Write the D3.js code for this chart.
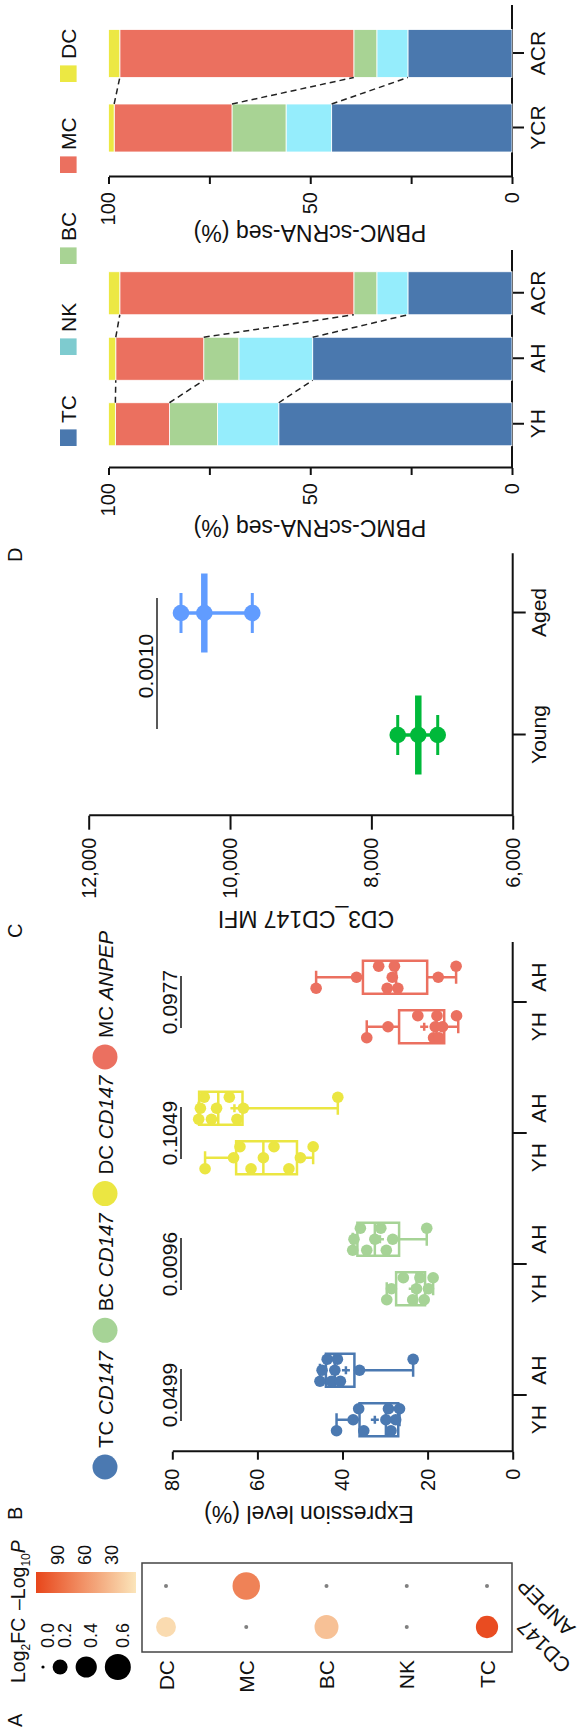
<!DOCTYPE html>
<html><head><meta charset="utf-8">
<script src="https://cdn.jsdelivr.net/npm/d3@7"></script>
<style>
body{margin:0;background:#fff}
svg{display:block}
text{font-family:"Liberation Sans",Arial,sans-serif;fill:#111}
</style>
</head><body>
<svg id="fig" width="578" height="1734"></svg>
<script>
// ---------------- DATA ----------------
// Panel A: dot plot
const cellTypes = ["DC","MC","BC","NK","TC"];
const genesA = ["CD147","ANPEP"];
const log2fcCD147 = [0.35, 0, 0.51, 0, 0.44];
const log2fcANPEP = [0, 0.67, 0, 0, 0];
const nlogpCD147 = [10, 0, 28, 0, 110];
const nlogpANPEP = [0, 72, 0, 0, 0];
const sizeLegendVals = [0, 0.2, 0.4, 0.6];
const colorLegendTicks = [30, 60, 90];

// Panel B: box plots (order: TC-YH, TC-AH, BC-YH, BC-AH, DC-YH, DC-AH, MC-YH, MC-AH)
const boxGroups = ["TC","BC","DC","MC"];
const boxGenes = ["CD147","CD147","CD147","ANPEP"];
const ageGroups = ["YH","AH"];
const pValues = ["0.0499","0.0096","0.1049","0.0977"];
const boxMin  = [26.6, 23.4, 18.7, 20.2, 46.9, 41.1, 12.8, 13.3];
const boxQ1   = [26.9, 37.2, 20.6, 26.7, 50.7, 63.5, 16.1, 20.1];
const boxMed  = [29.8, 41.8, 22.6, 32.4, 58.6, 69.2, 17.9, 27.4];
const boxQ3   = [36.0, 43.9, 27.4, 36.5, 65.0, 73.7, 26.7, 35.2];
const boxMax  = [41.4, 45.3, 29.6, 37.6, 72.3, 73.8, 34.3, 46.2];
const boxMean = [32.4, 39.2, 23.5, 31.2, 58.6, 65.4, 20.8, 28.6];
const boxPoints = [
  [41.4, 37.5, 36.2, 35.0, 29.8, 29.2, 28.6, 27.5, 26.6],
  [45.3, 44.8, 43.6, 42.6, 41.8, 41.2, 40.5, 36.0, 23.4],
  [29.6, 28.5, 25.7, 23.5, 22.6, 21.8, 20.8, 19.8, 18.7],
  [37.6, 37.3, 35.8, 34.3, 32.4, 31.0, 29.7, 28.2, 20.2],
  [72.3, 65.6, 64.1, 61.5, 58.6, 56.1, 52.6, 49.9, 46.9],
  [73.8, 73.4, 72.5, 70.8, 69.6, 66.6, 64.8, 63.3, 41.1],
  [34.3, 29.3, 22.3, 18.6, 18.2, 17.8, 17.3, 16.5, 13.2],
  [46.2, 36.7, 31.5, 29.5, 28.3, 27.8, 27.0, 17.5, 13.3]
];

// Panel C: MFI
const mfiCats = ["Young","Aged"];
const mfiYoung = [7061, 7336, 7627];
const mfiAged = [9685, 10364, 10694];
const mfiP = "0.0010";

// Panel D: stacked composition (%), order TC, NK, BC, MC, DC
const stackCells = ["TC","NK","BC","MC","DC"];
const barCats1 = ["YH","AH","ACR"];
const barCats2 = ["YCR","ACR"];
const shareYH  = [57.8, 15.2, 11.9, 13.4, 1.7];
const shareAH  = [49.4, 18.3, 8.7, 21.8, 1.8];
const shareACR = [25.8, 7.7, 5.7, 58.0, 2.8];
const shareYCR = [44.7, 11.3, 13.4, 29.2, 1.4];
const valueTicksD = [0, 25, 50, 75, 100];

// ---------------- STYLE ----------------
const boxColors = {TC:"#4b79b1", BC:"#a6d396", DC:"#ebe642", MC:"#eb7060"};
const barColors = {TC:"#4a78ae", NK:"#95edfc", BC:"#a8d394", MC:"#eb705f", DC:"#ece843"};
const legendColorsD = {TC:"#4a78ae", NK:"#7ecbcf", BC:"#a8d394", MC:"#eb705f", DC:"#ece843"};
const mfiColors = {Young:"#00b93a", Aged:"#619cff"};
const FS_LABEL = 21, FS_TICK = 20, FS_TITLE = 23;

const W = 578, H = 1734;
const svg = d3.select("#fig");
svg.append("rect").attr("width", W).attr("height", H).attr("fill", "#fff");
// the figure is laid out landscape and rotated 90deg counter-clockwise
const g = svg.append("g").attr("transform", `translate(0,${H}) rotate(-90)`);

function styleAxis(sel, fs){
  sel.attr("font-size", fs);
  sel.selectAll("path.domain").attr("stroke", "#111").attr("stroke-width", 2);
  sel.selectAll(".tick line").attr("stroke", "#111").attr("stroke-width", 2);
  sel.selectAll(".tick text").attr("fill", "#111");
}

// Panel letters
[["A",7],["B",214],["C",796],["D",1172]].forEach(([t,x]) =>
  g.append("text").attr("x", x).attr("y", 22).attr("font-size", 20).text(t));

// ---------------- PANEL A ----------------
const rScale = d3.scaleSqrt().domain([0, 0.6]).range([0, 13]);
const rOf = v => v > 0 ? rScale(v) : 1.6;
const cScale = d3.scaleLinear().domain([3, 114]).range(["#fbe5ba", "#e8461b"]);

const tA1 = g.append("text").attr("x", 51).attr("y", 25).attr("font-size", 19.5);
tA1.append("tspan").text("Log");
tA1.append("tspan").attr("font-size", 12).attr("dy", 5).text("2");
tA1.append("tspan").attr("dy", -5).text("FC");
const tA2 = g.append("text").attr("x", 124).attr("y", 25).attr("font-size", 19.5);
tA2.append("tspan").text("\u2013Log");
tA2.append("tspan").attr("font-size", 12).attr("dy", 5).text("10");
tA2.append("tspan").attr("dy", -5).attr("font-style", "italic").text("P");

// size legend
let cy = 43;
sizeLegendVals.forEach((v, i) => {
  if (i > 0) cy += rOf(sizeLegendVals[i-1]) + rOf(v) + 8;
  g.append("circle").attr("cx", 67).attr("cy", cy).attr("r", rOf(v)).attr("fill", "#000");
  g.append("text").attr("x", 86).attr("y", cy + 5).attr("dominant-baseline", "central")
    .attr("font-size", 18).text(d3.format(".1f")(v));
});
// colour legend
const cbScale = d3.scaleLinear().domain([114, 3]).range([36, 136]);
const grad = svg.append("defs").append("linearGradient").attr("id", "cbg")
  .attr("x1", 0).attr("y1", 0).attr("x2", 0).attr("y2", 1);
d3.range(0, 1.01, 0.1).forEach(t => grad.append("stop").attr("offset", t)
  .attr("stop-color", cScale(cbScale.invert(36 + t * 100))));
g.append("rect").attr("x", 141).attr("y", cbScale(114)).attr("width", 21)
  .attr("height", cbScale(3) - cbScale(114)).attr("fill", "url(#cbg)");
colorLegendTicks.forEach(t => g.append("text").attr("x", 169).attr("y", cbScale(t))
  .attr("dominant-baseline", "central").attr("font-size", 18).text(t));

// grid
const xA = d3.scalePoint().domain(genesA).range([107, 148]);
const yA = d3.scalePoint().domain(cellTypes).range([166, 487]);
g.append("rect").attr("x", 82).attr("y", 142).attr("width", 89).attr("height", 370)
  .attr("fill", "none").attr("stroke", "#444").attr("stroke-width", 1.5);
const dotsA = [];
cellTypes.forEach((c, i) => {
  dotsA.push({gene: "CD147", cell: c, fc: log2fcCD147[i], p: nlogpCD147[i]});
  dotsA.push({gene: "ANPEP", cell: c, fc: log2fcANPEP[i], p: nlogpANPEP[i]});
});
g.selectAll("circle.dotA").data(dotsA).join("circle").attr("class", "dotA")
  .attr("cx", d => xA(d.gene)).attr("cy", d => yA(d.cell))
  .attr("r", d => d.fc > 0 ? rScale(d.fc) : 2)
  .attr("fill", d => d.fc > 0 ? cScale(d.p) : "#808080");
cellTypes.forEach(c => g.append("text").attr("x", 74).attr("y", yA(c))
  .attr("text-anchor", "end").attr("dominant-baseline", "central").attr("font-size", FS_LABEL).text(c));
genesA.forEach(gn => g.append("text")
  .attr("transform", `translate(${xA(gn) + 9},526) rotate(-45)`)
  .attr("text-anchor", "end").attr("font-size", FS_LABEL).text(gn));

// ---------------- PANEL B ----------------
const yB = d3.scaleLinear().domain([0, 80]).range([512.7, 172.3]);
const xB = d3.scaleBand().domain(boxGroups).range([273.5, 797.5]);
const xBi = d3.scaleBand().domain(ageGroups).range([16, 115]);
const boxW = 33;

// legend
boxGroups.forEach((grp, i) => {
  const lx = 267 + i * 136.7;
  g.append("circle").attr("cx", lx).attr("cy", 105).attr("r", 12.5).attr("fill", boxColors[grp]);
  const t = g.append("text").attr("x", lx + 19).attr("y", 105).attr("dominant-baseline", "central").attr("font-size", 20.5);
  t.append("tspan").text(grp + " ");
  t.append("tspan").attr("font-style", "italic").text(boxGenes[i]);
});

const axB = g.append("g").attr("transform", "translate(282.3,0)")
  .call(d3.axisLeft(yB).tickValues([0,20,40,60,80]).tickSize(8).tickPadding(9).tickSizeOuter(0));
styleAxis(axB, FS_TICK);
const axBx = g.append("g").attr("transform", "translate(0,512.7)")
  .call(d3.axisBottom(xB).tickSize(14).tickFormat(""));
axBx.select("path.domain").remove();
styleAxis(axBx, FS_LABEL);
g.append("line").attr("x1", 282.3).attr("x2", 792).attr("y1", 512.7).attr("y2", 512.7)
  .attr("stroke", "#111").attr("stroke-width", 2);
g.append("text").attr("transform", "translate(228,309) rotate(-90)")
  .attr("text-anchor", "middle").attr("font-size", FS_TITLE).text("Expression level (%)");

boxGroups.forEach((grp, gi) => {
  const gc = xB(grp) + xB.bandwidth() / 2;
  g.append("text").attr("x", gc).attr("y", 177).attr("text-anchor", "middle")
    .attr("font-size", FS_LABEL).text(pValues[gi]);
  g.append("line").attr("x1", gc - 26).attr("x2", gc + 26).attr("y1", 181).attr("y2", 181)
    .attr("stroke", "#111").attr("stroke-width", 1.5);
  ageGroups.forEach((ag, ai) => {
    const i = gi * 2 + ai;
    const cx = xB(grp) + xBi(ag) + xBi.bandwidth() / 2;
    const col = boxColors[grp];
    const bg = g.append("g").attr("stroke", col).attr("stroke-width", 2.5).attr("fill", "none");
    bg.append("line").attr("x1", cx).attr("x2", cx).attr("y1", yB(boxMin[i])).attr("y2", yB(boxQ1[i]));
    bg.append("line").attr("x1", cx).attr("x2", cx).attr("y1", yB(boxQ3[i])).attr("y2", yB(boxMax[i]));
    [boxMin[i], boxMax[i]].forEach(v => bg.append("line").attr("x1", cx - 6.5).attr("x2", cx + 6.5)
      .attr("y1", yB(v)).attr("y2", yB(v)));
    bg.append("rect").attr("x", cx - boxW / 2).attr("y", yB(boxQ3[i])).attr("width", boxW)
      .attr("height", yB(boxQ1[i]) - yB(boxQ3[i]));
    bg.append("line").attr("x1", cx - boxW / 2).attr("x2", cx + boxW / 2)
      .attr("y1", yB(boxMed[i])).attr("y2", yB(boxMed[i]));
    bg.append("line").attr("x1", cx - 4).attr("x2", cx + 4).attr("y1", yB(boxMean[i])).attr("y2", yB(boxMean[i]));
    bg.append("line").attr("x1", cx).attr("x2", cx).attr("y1", yB(boxMean[i]) - 4).attr("y2", yB(boxMean[i]) + 4);
    g.selectAll(null).data(boxPoints[i]).join("circle")
      .attr("cx", (d, k) => cx + ((k % 3) - 1) * 11).attr("cy", d => yB(d))
      .attr("r", 5.8).attr("fill", col);
    g.append("text").attr("x", cx).attr("y", 531).attr("dy", "0.71em").attr("text-anchor", "middle")
      .attr("font-size", FS_LABEL).text(ag);
  });
});

// ---------------- PANEL C ----------------
const yC = d3.scaleLinear().domain([6000, 12000]).range([512.7, 88.7]);
const xC = d3.scalePoint().domain(mfiCats).range([999, 1121]);
const axC = g.append("g").attr("transform", "translate(918.3,0)")
  .call(d3.axisLeft(yC).tickValues([6000,8000,10000,12000]).tickFormat(d3.format(","))
  .tickSize(14).tickPadding(8).tickSizeOuter(0));
styleAxis(axC, FS_TICK);
const axCx = g.append("g").attr("transform", "translate(0,512.7)")
  .call(d3.axisBottom(xC).tickSize(13).tickPadding(5));
axCx.select("path.domain").remove();
styleAxis(axCx, FS_LABEL);
g.append("line").attr("x1", 918.3).attr("x2", 1180.7).attr("y1", 512.7).attr("y2", 512.7)
  .attr("stroke", "#111").attr("stroke-width", 2);
g.append("text").attr("transform", "translate(823,306) rotate(-90)")
  .attr("text-anchor", "middle").attr("font-size", FS_TITLE).text("CD3_CD147 MFI");

[[mfiCats[0], mfiYoung], [mfiCats[1], mfiAged]].forEach(([cat, vals]) => {
  const cx = xC(cat), col = mfiColors[cat];
  const mn = d3.min(vals), mx = d3.max(vals), md = d3.median(vals);
  g.append("line").attr("x1", cx).attr("x2", cx).attr("y1", yC(mn)).attr("y2", yC(mx))
    .attr("stroke", col).attr("stroke-width", 3.5);
  [mn, mx].forEach(v => g.append("line").attr("x1", cx - 20).attr("x2", cx + 20)
    .attr("y1", yC(v)).attr("y2", yC(v)).attr("stroke", col).attr("stroke-width", 3));
  g.append("line").attr("x1", cx - 39.5).attr("x2", cx + 39.5).attr("y1", yC(md)).attr("y2", yC(md))
    .attr("stroke", col).attr("stroke-width", 6.5);
  g.selectAll(null).data(vals).join("circle").attr("cx", cx).attr("cy", d => yC(d))
    .attr("r", 8.3).attr("fill", col);
});
g.append("line").attr("x1", 1005).attr("x2", 1136).attr("y1", 157).attr("y2", 157)
  .attr("stroke", "#222").attr("stroke-width", 1.5);
g.append("text").attr("x", 1068).attr("y", 153).attr("text-anchor", "middle").attr("font-size", FS_LABEL).text(mfiP);

// ---------------- PANEL D ----------------
const yD = d3.scaleLinear().domain([0, 100]).range([512, 108.5]);
// legend
stackCells.forEach((c, i) => {
  const lx = 1288 + i * 91;
  g.append("rect").attr("x", lx).attr("y", 60).attr("width", 16.6).attr("height", 16.6).attr("fill", legendColorsD[c]);
  g.append("text").attr("x", lx + 23).attr("y", 68.3).attr("dominant-baseline", "central").attr("font-size", FS_LABEL).text(c);
});

function stackChart(cats, shares, axisU, topU, range, bw, titleU){
  const x = d3.scalePoint().domain(cats).range(range);
  const ax = g.append("g").attr("transform", `translate(${axisU},0)`)
    .call(d3.axisLeft(yD).tickValues(valueTicksD).tickFormat(d => d % 50 === 0 ? d : "")
    .tickSize(7).tickPadding(8).tickSizeOuter(0));
  styleAxis(ax, FS_TICK);
  const axx = g.append("g").attr("transform", "translate(0,512)")
    .call(d3.axisBottom(x).tickSize(12).tickPadding(6));
  axx.select("path.domain").remove();
  styleAxis(axx, FS_LABEL);
  g.append("line").attr("x1", axisU).attr("x2", topU).attr("y1", 512).attr("y2", 512)
    .attr("stroke", "#111").attr("stroke-width", 2);
  g.append("text").attr("transform", `translate(${titleU},310) rotate(-90)`)
    .attr("text-anchor", "middle").attr("font-size", FS_TITLE).text("PBMC-scRNA-seq (%)");
  const cums = shares.map(s => { let acc = 0; return s.map(v => [acc, acc += v]); });
  cats.forEach((cat, ci) => {
    stackCells.forEach((c, k) => {
      const [a, b] = cums[ci][k];
      g.append("rect").attr("x", x(cat) - bw / 2).attr("y", yD(b)).attr("width", bw)
        .attr("height", yD(a) - yD(b)).attr("fill", barColors[c]).attr("stroke", "#fff").attr("stroke-width", 0.8);
    });
  });
  for (let ci = 0; ci < cats.length - 1; ci++) {
    [0, 2, 3].forEach(k => {
      g.append("line").attr("x1", x(cats[ci]) + bw / 2).attr("x2", x(cats[ci + 1]) - bw / 2)
        .attr("y1", yD(cums[ci][k][1])).attr("y2", yD(cums[ci + 1][k][1]))
        .attr("stroke", "#222").attr("stroke-width", 1.5).attr("stroke-dasharray", "6,4");
    });
  }
}
stackChart(barCats1, [shareYH, shareAH, shareACR], 1266, 1484, [1309.75, 1440.75], 43, 1214);
stackChart(barCats2, [shareYCR, shareACR], 1557, 1729, [1606, 1680.5], 48, 1509);
</script>
</body></html>
